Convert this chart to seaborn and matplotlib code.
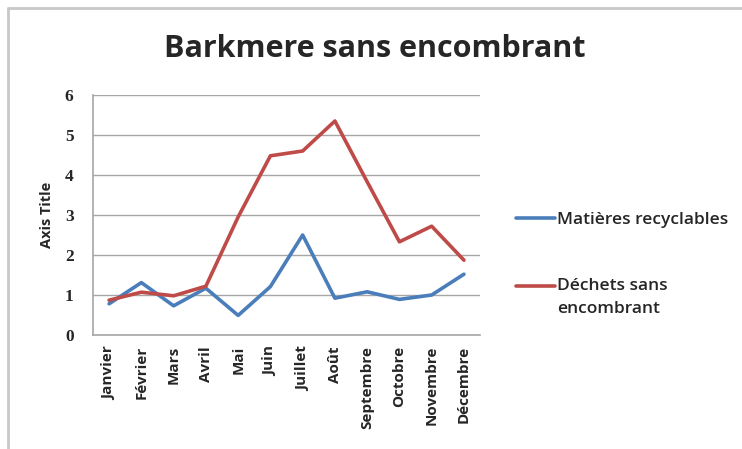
import matplotlib.pyplot as plt
import pandas as pd
import seaborn as sns
from matplotlib.lines import Line2D
from matplotlib.legend_handler import HandlerLine2D

# Data
mois = ['Janvier', 'Février', 'Mars', 'Avril', 'Mai', 'Juin', 'Juillet', 'Août',
        'Septembre', 'Octobre', 'Novembre', 'Décembre']
recyclables = [0.78, 1.31, 0.73, 1.17, 0.49, 1.21, 2.50, 0.92, 1.08, 0.89, 1.00, 1.52]
dechets = [0.87, 1.07, 0.98, 1.22, 2.95, 4.48, 4.60, 5.35, 3.83, 2.33, 2.72, 1.87]
series = ['Matières recyclables', 'Déchets sans\nencombrant']
couleurs = ['#4a7ebb', '#be4b48']

df = pd.DataFrame({
    'mois': mois * 2,
    'valeur': recyclables + dechets,
    'serie': [series[0]] * 12 + [series[1]] * 12,
})


class TopLineHandler(HandlerLine2D):
    # put the legend line next to the first text line, like Excel does
    def create_artists(self, legend, orig_handle, xdescent, ydescent,
                       width, height, fontsize, trans):
        arts = super().create_artists(legend, orig_handle, xdescent, ydescent,
                                      width, height, fontsize, trans)
        for a in arts:
            a.set_ydata([y + 8.5 for y in a.get_ydata()])
        return arts


sns.set_style('white')
plt.rcParams['font.family'] = ['Open Sans', 'DejaVu Sans']

fig = plt.figure(figsize=(7.42, 4.49), dpi=100)
ax = fig.add_axes([0.1253, 0.2539, 0.5217, 0.5345])

sns.lineplot(data=df, x='mois', y='valeur', hue='serie', palette=couleurs,
             linewidth=2.6, sort=False, legend=False, ax=ax)

ax.set_xlim(-0.5, 11.5)
ax.set_ylim(0, 6)
ax.set_yticks(range(0, 7))
ax.yaxis.grid(True, color='#a6a6a6', linewidth=1.0)
ax.set_axisbelow(True)
for side in ['top', 'right']:
    ax.spines[side].set_visible(False)
for side in ['left', 'bottom']:
    ax.spines[side].set_color('#a6a6a6')
    ax.spines[side].set_linewidth(1.2)
ax.tick_params(length=0)
ax.tick_params(axis='y', pad=14)
ax.tick_params(axis='x', pad=8)

ax.set_xticks(range(len(mois)))
ax.set_xticklabels(mois, rotation=90, fontsize=11, fontweight='bold', family=['Open Sans', 'DejaVu Sans'])
for lab in ax.get_yticklabels():
    lab.set_family(['Liberation Serif', 'DejaVu Serif'])
    lab.set_fontweight('bold')
    lab.set_fontsize(12.5)

ax.set_xlabel('')
ax.set_ylabel('Axis Title', fontsize=10.5, fontweight='bold', labelpad=8)

fig.suptitle('Barkmere sans encombrant', x=0.505, y=0.925, fontsize=22, fontweight='bold')

handles = [Line2D([], [], color=c, linewidth=2.6) for c in couleurs]
leg = fig.legend(handles, series, loc='upper left', bbox_to_anchor=(0.675, 0.562),
                 frameon=False, handlelength=2.2, handletextpad=0.15,
                 labelspacing=2.85, prop={'weight': 'semibold', 'size': 12.5},
                 handler_map={handles[1]: TopLineHandler()})
for t in leg.get_texts():
    t.set_linespacing(1.6)

# Chart-area border (left and top only visible)
fig.add_artist(Line2D([0.011, 0.011], [0, 0.982], color='#c8c8c8', linewidth=2))
fig.add_artist(Line2D([0.011, 1], [0.982, 0.982], color='#c8c8c8', linewidth=2))

fig.savefig('out.png', dpi=100)
